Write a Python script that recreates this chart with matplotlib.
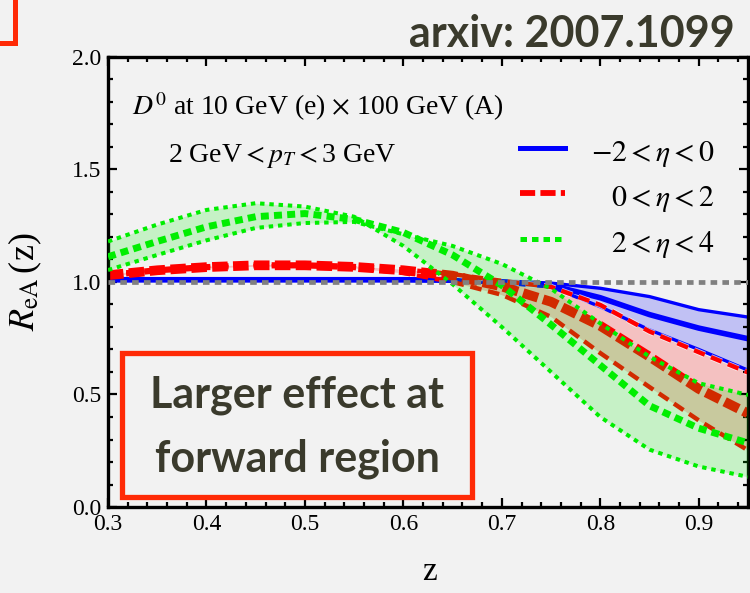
import matplotlib
matplotlib.use("Agg")
import matplotlib.pyplot as plt
import matplotlib.patheffects as pe
from matplotlib import font_manager
from matplotlib.lines import Line2D
from matplotlib.patches import Rectangle
from matplotlib.ticker import MultipleLocator

# z grid and R_eA(z) curves (central value + two bounds) for each rapidity bin
z = [0.30, 0.35, 0.40, 0.45, 0.50, 0.55, 0.60, 0.65, 0.70, 0.75, 0.80, 0.85, 0.90, 0.95]

# -2 < eta < 0
blue_mid = [1.010, 1.010, 1.010, 1.010, 1.010, 1.010, 1.010, 1.008, 1.000, 0.985, 0.930, 0.855, 0.795, 0.748]
blue_hi = [1.012, 1.012, 1.012, 1.012, 1.012, 1.012, 1.012, 1.010, 1.005, 0.995, 0.972, 0.935, 0.877, 0.844]
blue_lo = [1.006, 1.006, 1.006, 1.006, 1.006, 1.006, 1.006, 1.004, 0.995, 0.978, 0.890, 0.787, 0.700, 0.608]

# 0 < eta < 2
red_mid = [1.030, 1.052, 1.066, 1.074, 1.074, 1.067, 1.052, 1.028, 0.980, 0.912, 0.805, 0.668, 0.525, 0.416]
red_hi = [1.035, 1.056, 1.070, 1.078, 1.078, 1.071, 1.056, 1.035, 1.005, 0.978, 0.898, 0.780, 0.688, 0.598]
red_lo = [1.026, 1.048, 1.062, 1.070, 1.070, 1.062, 1.040, 1.000, 0.943, 0.845, 0.684, 0.533, 0.385, 0.252]

# 2 < eta < 4
green_mid = [1.112, 1.180, 1.245, 1.290, 1.304, 1.278, 1.220, 1.120, 0.985, 0.810, 0.630, 0.450, 0.350, 0.285]
green_a = [1.180, 1.255, 1.320, 1.350, 1.335, 1.290, 1.160, 0.990, 0.800, 0.600, 0.400, 0.255, 0.180, 0.134]
green_b = [1.053, 1.120, 1.185, 1.240, 1.262, 1.267, 1.212, 1.160, 1.080, 0.970, 0.816, 0.668, 0.550, 0.498]

legend_labels = [r"$-2<\eta<0$", r"$0<\eta<2$", r"$2<\eta<4$"]
x_ticks = [0.3, 0.4, 0.5, 0.6, 0.7, 0.8, 0.9]
y_ticks = [0.0, 0.5, 1.0, 1.5, 2.0]


def pick_font(candidates):
    names = {f.name for f in font_manager.fontManager.ttflist}
    for c in candidates:
        if c in names:
            return c
    return "DejaVu Sans"


SERIF = pick_font(["Liberation Serif", "DejaVu Serif"])
SLIDE = pick_font(["Liberation Sans Narrow", "Lato", "Roboto", "DejaVu Sans"])
BOXFONT = pick_font(["Lato", "Open Sans", "DejaVu Sans"])

plt.rcParams["font.family"] = [SERIF, "DejaVu Serif"]
plt.rcParams["mathtext.fontset"] = "stix"

BG = "#f2f2f2"
BLUE = "#0000ff"
RED = "#ff0000"
GREEN = "#00ee00"
OLIVE = "#3a3a2c"
BOXRED = "#ff2a06"

fig = plt.figure(figsize=(7.5, 5.93), dpi=100, facecolor=BG)
ax = fig.add_axes([0.144, 0.145, 0.8533, 0.759])
ax.set_facecolor("none")

# bands
ax.fill_between(z, blue_lo, blue_hi, color=BLUE, alpha=0.2, lw=0, zorder=1)
ax.fill_between(z, red_lo, red_hi, color=RED, alpha=0.2, lw=0, zorder=1.1)

# blue: solid
ax.plot(z, blue_hi, color=BLUE, lw=2.4, zorder=2)
ax.plot(z, blue_lo, color=BLUE, lw=2.4, zorder=2)
ax.plot(z, blue_mid, color=BLUE, lw=4.0, zorder=2.05)

# red: dashed
ax.plot(z, red_hi, color=RED, lw=3.2, ls=(0, (2.6, 1.5)), dash_capstyle="butt", zorder=2.1,
        path_effects=[pe.Stroke(linewidth=4.4, foreground="white", alpha=0.7), pe.Normal()])
ax.plot(z, red_lo, color=RED, lw=3.2, ls=(0, (2.6, 1.5)), dash_capstyle="butt", zorder=2.1)
ax.plot(z, red_mid, color=RED, lw=7.0, ls=(0, (1.6, 0.55)), dash_capstyle="butt", zorder=2.2)

# green band drawn over the red lines
ax.fill_between(z, green_a, green_b, color=GREEN, alpha=0.18, lw=0, zorder=3)

# green: dotted
ax.plot(z, green_a, color=GREEN, lw=2.9, ls=(0, (1.1, 1.2)), dash_capstyle="butt", zorder=4)
ax.plot(z, green_b, color=GREEN, lw=2.9, ls=(0, (1.1, 1.2)), dash_capstyle="butt", zorder=4)
ax.plot(z, green_mid, color=GREEN, lw=5.0, ls=(0, (1.15, 0.75)), dash_capstyle="butt", zorder=4.1)

# reference line at unity
ax.axhline(1.0, color="#808080", lw=3.4, ls=(0, (1.4, 1.1)), dash_capstyle="butt", zorder=5)

ax.set_xlim(0.3, 0.95)
ax.set_ylim(0.0, 2.0)
ax.set_xticks(x_ticks)
ax.set_yticks(y_ticks)
ax.set_xticklabels([f"{t:.1f}" for t in x_ticks])
ax.set_yticklabels([f"{t:.1f}" for t in y_ticks])
ax.xaxis.set_minor_locator(MultipleLocator(0.02))
ax.yaxis.set_minor_locator(MultipleLocator(0.1))
ax.tick_params(which="both", direction="in", top=True, right=True, width=1.6, colors="black",
               labelsize=17)
ax.tick_params(which="major", length=6.5, pad=5)
ax.tick_params(which="minor", length=3.8)
for s in ax.spines.values():
    s.set_linewidth(2.4)

ax.set_ylabel(r"$R_{\rm eA}\,$(z)", fontsize=26)
ax.yaxis.set_label_coords(-0.1, 0.5)
ax.set_xlabel("z", fontsize=24)
ax.xaxis.set_label_coords(0.503, -0.11)

# annotations
ax.text(0.037, 0.871, r"$D^0$ at 10 GeV (e) $\times$ 100 GeV (A)", transform=ax.transAxes,
        fontsize=20, va="baseline", ha="left")
ax.text(0.094, 0.767, r"2 GeV$<p_T<$3 GeV", transform=ax.transAxes,
        fontsize=20, va="baseline", ha="left")

# legend, drawn by hand so the labels sit right-aligned
handles = [
    dict(color=BLUE, lw=3.6, ls="-"),
    dict(color=RED, lw=4.2, ls=(0, (2.6, 0.9))),
    dict(color=GREEN, lw=3.6, ls=(0, (1.3, 1.0))),
]
rows = [0.797, 0.697, 0.595]
for h, label, yr in zip(handles, legend_labels, rows):
    ax.add_line(Line2D([0.644, 0.714], [yr, yr], transform=ax.transAxes,
                       dash_capstyle="butt", zorder=6, **h))
    ax.text(0.948, yr - 0.028, label, transform=ax.transAxes, fontsize=21.5,
            ha="right", va="baseline", zorder=6)

# highlight box
ax.add_patch(Rectangle((0.314, 0.045), 0.356, 0.64, fill=False, edgecolor=BOXRED,
                       lw=3.8, zorder=7))
ax.text(0.492, 0.44, "Larger effect at", fontsize=31, fontweight="bold", family=BOXFONT,
        color=OLIVE, ha="center", va="baseline", zorder=7)
ax.text(0.492, 0.156, "forward region", fontsize=31, fontweight="bold", family=BOXFONT,
        color=OLIVE, ha="center", va="baseline", zorder=7)

# header text and the corner of the neighbouring box
fig.text(0.98, 0.921, "arxiv: 2007.1099", fontsize=31, fontweight="bold", family=SLIDE,
         color=OLIVE, ha="right", va="baseline")
fig.add_artist(Rectangle((-0.05, 1 - 43 / 593), 0.05 + 15 / 750, 0.2, fill=False,
                         edgecolor=BOXRED, lw=3.6, transform=fig.transFigure))

fig.savefig("out.png", dpi=100, facecolor=BG)
